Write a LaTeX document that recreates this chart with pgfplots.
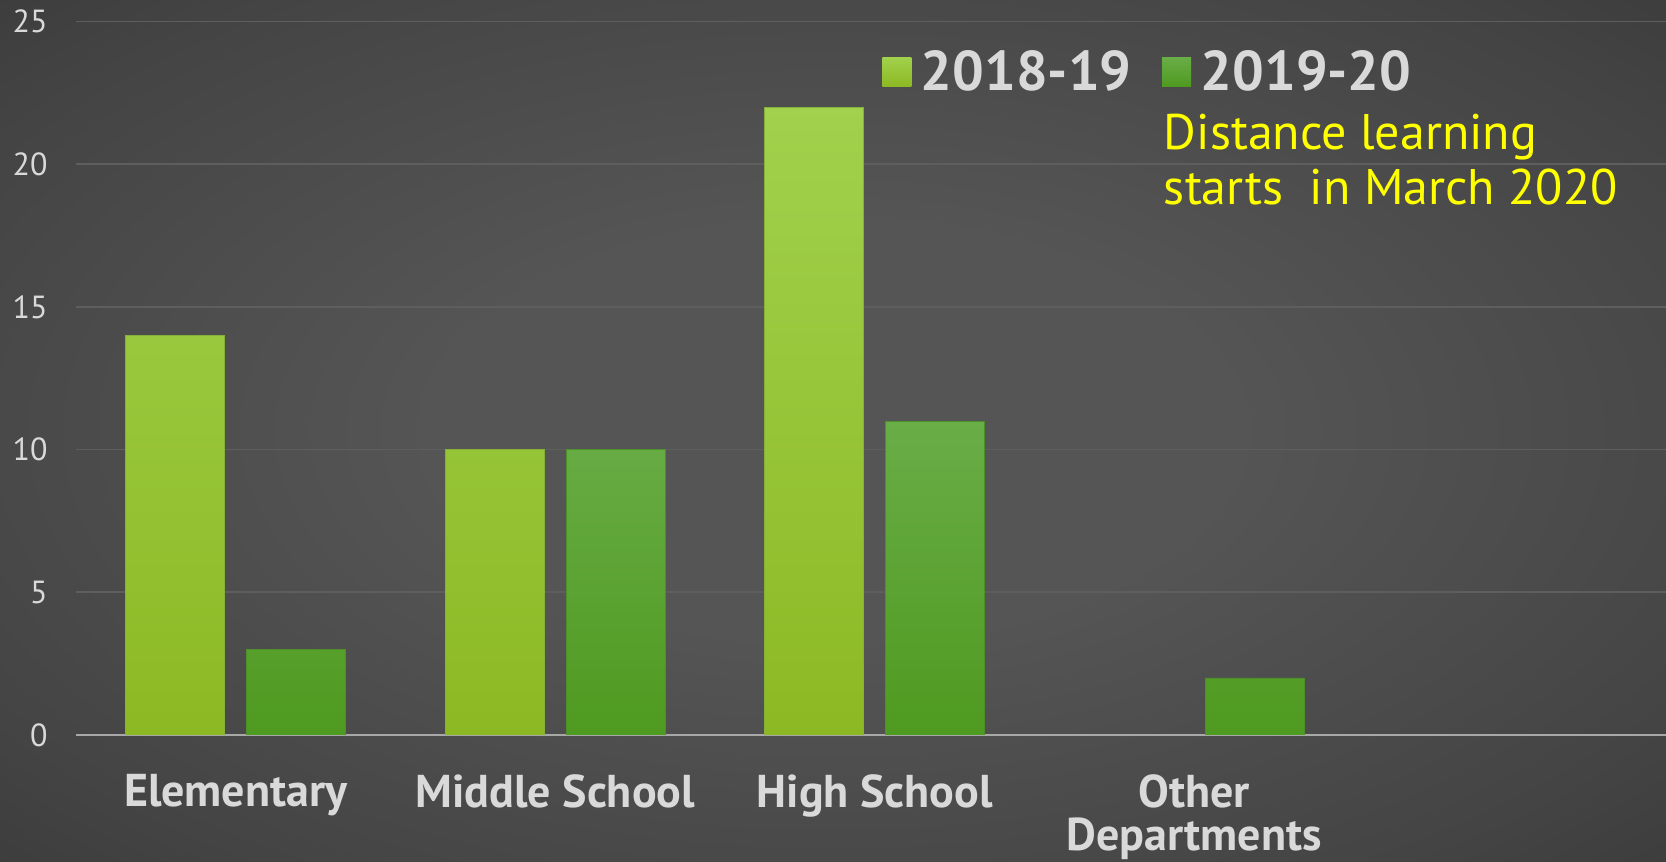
\documentclass[border=0pt]{standalone}
\usepackage{pgfplots}
\pgfplotsset{compat=1.18}
\usepackage{fontspec}
\setmainfont{PT Sans}
\definecolor{labc}{HTML}{D9D9D9}
\definecolor{gridc}{HTML}{5E5E5E}
\definecolor{basec}{HTML}{A8A8A8}
\definecolor{lgtop}{HTML}{A1D14D}
\definecolor{lgbot}{HTML}{8CB923}
\definecolor{lgedge}{HTML}{86B03A}
\definecolor{dgtop}{HTML}{69AD47}
\definecolor{dgbot}{HTML}{4F9A20}
\definecolor{dgedge}{HTML}{4D8F2A}
\definecolor{annc}{HTML}{FFFF00}
\definecolor{bgA}{HTML}{555555}
\definecolor{bgB}{HTML}{444444}
\definecolor{bgC}{HTML}{303030}
\definecolor{bgD}{HTML}{242424}
\pgfdeclareradialshading{bgshade}{\pgfpoint{0bp}{0bp}}{color(0bp)=(bgA); color(12bp)=(bgA); color(30bp)=(bgB); color(46bp)=(bgC); color(68bp)=(bgD)}
\begin{document}
\begin{tikzpicture}
\useasboundingbox (0,0) rectangle (833pt,431pt);
\clip (0,0) rectangle (833pt,431pt);
\shade[shading=bgshade] (0,0) rectangle (833pt,431pt);
\begin{axis}[
  at={(38pt,63.5pt)}, anchor=south west,
  width=798.75pt, height=356.75pt, scale only axis,
  xmin=-0.5, xmax=4.5, ymin=0, ymax=25,
  axis x line*=bottom, axis y line*=left,
  x axis line style={draw=basec, line width=1.2pt},
  y axis line style={draw=none},
  ytick={0,5,10,15,20,25},
  xtick={0,1,2,3},
  xticklabels={Elementary,Middle School,High School,{Other\\Departments}},
  major tick length=0pt,
  ymajorgrids, grid style={draw=gridc, line width=0.9pt},
  yticklabel style={anchor=east, inner sep=0pt, xshift=-14pt, text=labc, font=\fontsize{16}{18}\selectfont},
  xticklabel style={anchor=north, inner sep=0pt, yshift=-19.5pt, text=labc, align=center, font=\bfseries\fontsize{23}{21.5}\selectfont},
  /pgf/number format/assume math mode=true,
  ybar, bar width=49.5pt,
  legend style={at={(0.5045,0.9292)}, anchor=west, draw=none, fill=none, text=labc,
    font=\bfseries\fontsize{28}{30}\selectfont, inner sep=0pt,
    nodes={inner xsep=4.8pt, inner ysep=0pt},
    /tikz/every even column/.append style={column sep=10.5pt}},
  legend columns=2,
  legend image code/.code={\path[#1,draw=none] (0pt,-7.25pt) rectangle (14.5pt,7.25pt);},
]
\addplot[draw=lgedge, line width=0.4pt, top color=lgtop, bottom color=lgbot, bar shift=-30.25pt]
  coordinates {(0,14) (1,10) (2,22)};
\addplot[draw=dgedge, line width=0.4pt, top color=dgtop, bottom color=dgbot, bar shift=30.25pt]
  coordinates {(0,3) (1,10) (2,11) (3,2)};
\legend{2018-19,2019-20}
\node[anchor=base west, inner sep=0pt, text=annc, font=\fontsize{25}{27}\selectfont] at (rel axis cs:0.6808,0.8199) {Distance learning};
\node[anchor=base west, inner sep=0pt, text=annc, font=\fontsize{25}{27}\selectfont] at (rel axis cs:0.6808,0.7442) {starts\ \ in March 2020};
\end{axis}
\end{tikzpicture}
\end{document}
